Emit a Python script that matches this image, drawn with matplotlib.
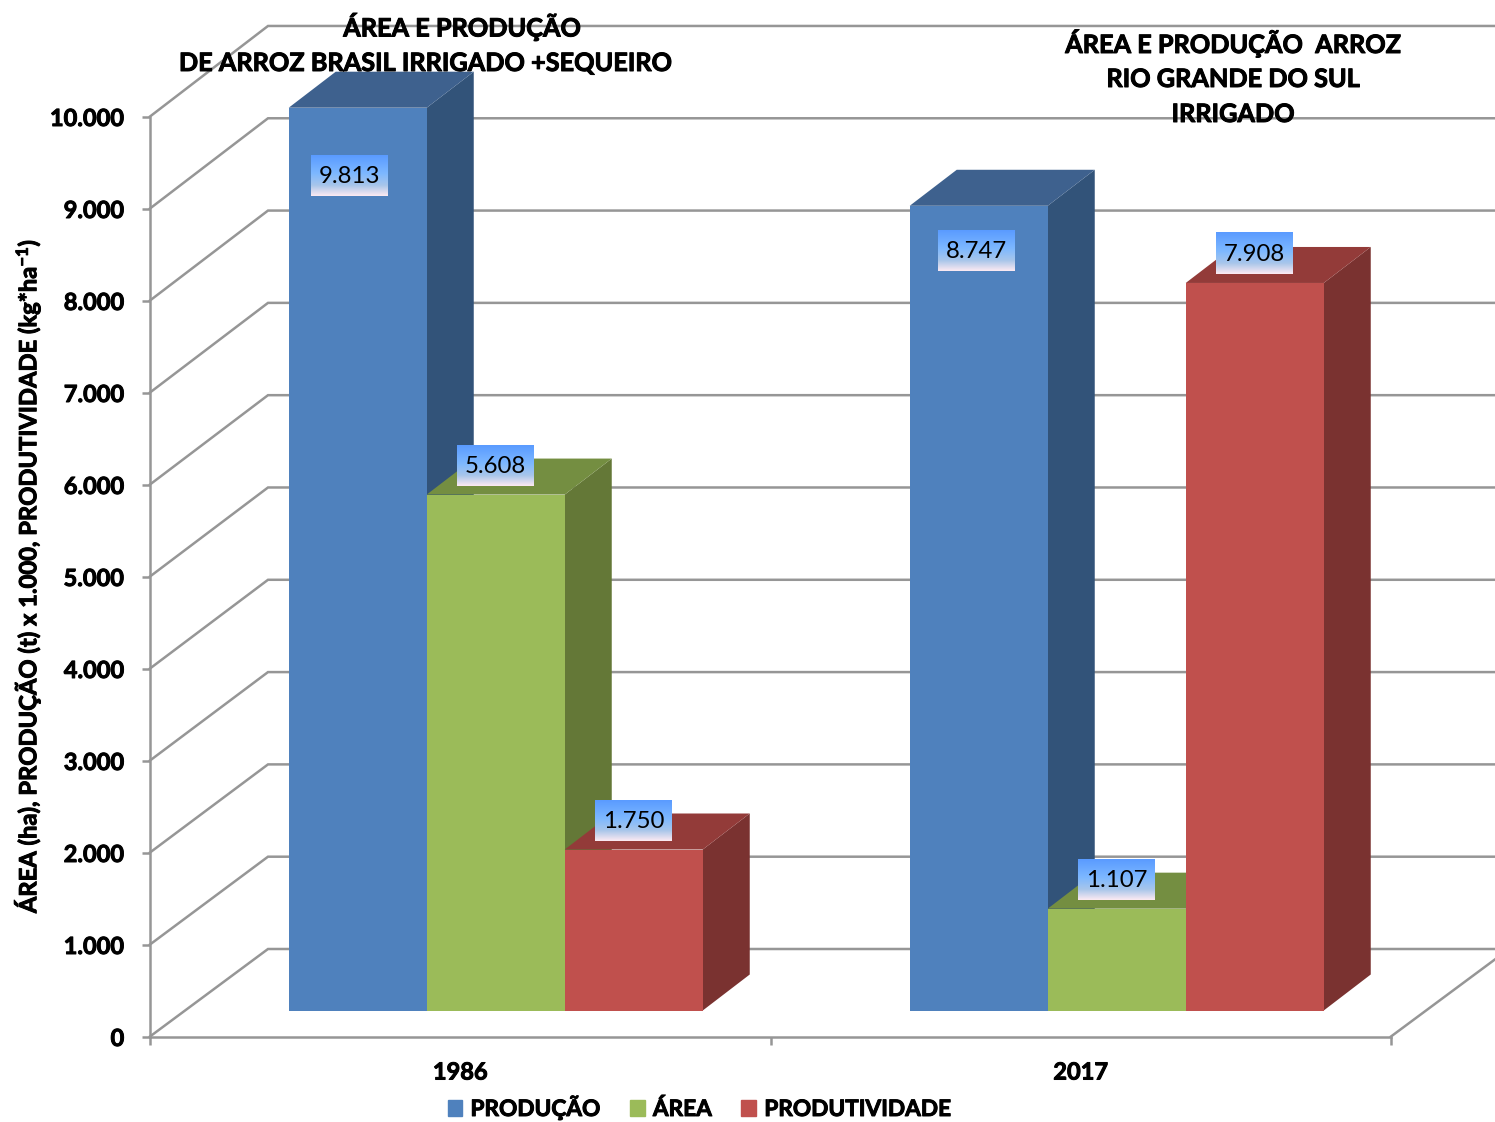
import numpy as np
import matplotlib
matplotlib.use("Agg")
import matplotlib.pyplot as plt
from matplotlib.patches import Patch
from matplotlib.colors import LinearSegmentedColormap
import matplotlib.patheffects as pe

# ---- data ----
years = ["1986", "2017"]
producao = [9813, 8747]
area = [5608, 1107]
produtividade = [1750, 7908]
series_names = ["PRODUÇÃO", "ÁREA", "PRODUTIVIDADE"]
y_ticks = [0, 1000, 2000, 3000, 4000, 5000, 6000, 7000, 8000, 9000, 10000]

# ---- style ----
plt.rcParams["font.family"] = ["Lato", "DejaVu Sans"]
plt.rcParams["mathtext.fontset"] = "custom"
plt.rcParams["mathtext.rm"] = "Lato:bold"
plt.rcParams["mathtext.bf"] = "Lato:bold"
plt.rcParams["mathtext.default"] = "regular"

W, H = 1495, 1122
L, R, T, B = 150, 1391, 116.5, 1036.5
PX_X = 2 / (R - L)          # data units per pixel
PX_Y = 10000 / (B - T)
GREY = "#969696"
LW = 1.8
front = ["#4F81BD", "#9BBB59", "#C0504D"]
top = ["#3E618E", "#748E41", "#933B39"]
side = ["#325379", "#647837", "#7A3230"]
HEAVY = [pe.withStroke(linewidth=0.7, foreground="black")]

fig = plt.figure(figsize=(W / 100, H / 100), dpi=100)
ax = fig.add_axes([L / W, 1 - B / H, (R - L) / W, (B - T) / H])
ax.patch.set_alpha(0)
ax.set_xlim(0, 2)
ax.set_ylim(0, 10000)

# walls and grid
wall_dx, wall_dy = 118 * PX_X, 87.5 * PX_Y
back_scale = 1.0033
for v in y_ticks:
    yb = v * back_scale + wall_dy
    ax.plot([0, wall_dx, 2 + wall_dx], [v, yb, yb],
            color=GREY, lw=LW, clip_on=False, zorder=1, solid_joinstyle="miter")
ax.plot([2, 2 + wall_dx], [0, wall_dy], color=GREY, lw=LW, clip_on=False, zorder=1)

# bars
width = 138 * PX_X
lift = 26 * PX_Y
centers = np.array([0.5, 1.5]) + np.array([35.5, 36.0]) * PX_X
depth_x, depth_y = 47 * PX_X, 36 * PX_Y
all_series = [producao, area, produtividade]
draw_order = [(0, 0), (0, 1), (0, 2), (1, 0), (1, 2), (1, 1)]
for g, s in draw_order:
    val = all_series[s][g]
    left = centers[g] + (s - 1.5) * width
    right = left + width
    y0, y1 = lift, lift + val
    z = 3 + g + (0.1 * s)
    ax.fill([right, right + depth_x, right + depth_x, right],
            [y0, y0 + depth_y, y1 + depth_y, y1], color=side[s], lw=0, zorder=z, clip_on=False)
    ax.fill([left, left + depth_x, right + depth_x, right],
            [y1, y1 + depth_y, y1 + depth_y, y1], color=top[s], lw=0, zorder=z, clip_on=False)
    ax.bar(left, val, width, bottom=lift, align="edge", color=front[s], lw=0,
           zorder=z + 0.01, clip_on=False)

# data labels with gradient boxes
cmap = LinearSegmentedColormap.from_list(
    "lbl", [(0, "#5A9BFF"), (0.45, "#7DB8FF"), (0.75, "#A9C6EA"), (1, "#FBE9F2")])
grad = np.linspace(0, 1, 64).reshape(-1, 1)
box_w, box_h = 77 * PX_X, 41 * PX_Y
nudge_x = {(0, 0): -8.5, (1, 0): -2.5}
nudge_y = {(0, 0): -68, (1, 0): -45}
for g in range(2):
    for s in range(3):
        val = all_series[s][g]
        cx = centers[g] + (s - 1) * width + nudge_x.get((g, s), 0) * PX_X
        cy = lift + val + nudge_y.get((g, s), 29) * PX_Y
        ax.imshow(grad, cmap=cmap, aspect="auto", zorder=10, clip_on=False,
                  extent=[cx - box_w / 2, cx + box_w / 2, cy - box_h / 2, cy + box_h / 2],
                  origin="upper")
        ax.text(cx, cy - 0.5 * PX_Y, f"{val:,}".replace(",", "."), ha="center", va="center",
                fontsize=17.3, color="black", zorder=11)
ax.set_xlim(0, 2)
ax.set_ylim(0, 10000)

# axes
for name in ("top", "right"):
    ax.spines[name].set_visible(False)
for name in ("left", "bottom"):
    ax.spines[name].set_color(GREY)
    ax.spines[name].set_linewidth(LW)
    ax.spines[name].set_zorder(2)
ax.set_yticks(y_ticks)
ax.set_yticklabels([f"{v:,}".replace(",", ".") for v in y_ticks],
                   fontsize=17, fontweight="bold", path_effects=HEAVY)
ax.tick_params(axis="y", length=6, width=LW, color=GREY, pad=12.5)
ax.set_xticks([0, 1, 2])
ax.set_xticklabels([])
ax.tick_params(axis="x", which="major", length=6, width=LW, color=GREY)
ax.set_xticks([0.5, 1.5], minor=True)
ax.set_xticklabels(years, minor=True, fontsize=17, fontweight="bold", path_effects=HEAVY)
ax.tick_params(axis="x", which="minor", length=0, pad=17.3)

fig.text(27 / W, 1 - 576 / H,
         "ÁREA (ha), PRODUÇÃO (t) x 1.000, PRODUTIVIDADE (kg*ha$^{-1}$)",
         rotation=90, ha="center", va="center", fontsize=17.1, fontweight="bold",
         path_effects=HEAVY)

# titles
def title(x, y, s):
    fig.text(x / W, 1 - y / H, s, ha="center", va="center", fontsize=18.2,
             fontweight="bold", color="black", zorder=20, path_effects=HEAVY)
title(462, 27, "ÁREA E PRODUÇÃO")
title(425, 63.5, "DE ARROZ BRASIL IRRIGADO +SEQUEIRO")
title(1233, 43.5, "ÁREA E PRODUÇÃO  ARROZ")
title(1233, 79.5, "RIO GRANDE DO SUL")
title(1233, 114.5, "IRRIGADO")

# legend
handles = [Patch(color=c, label=n) for c, n in zip(front, series_names)]
leg = fig.legend(handles=handles, ncol=3, frameon=False, loc="center",
                 bbox_to_anchor=(699.5 / W, 1 - 1107.5 / H),
                 prop={"size": 16.3, "weight": "bold"},
                 handlelength=0.65, handleheight=0.65, handletextpad=0.36,
                 columnspacing=1.3, borderpad=0, borderaxespad=0)
for t in leg.get_texts():
    t.set_path_effects(HEAVY)

fig.savefig("out.png", dpi=100)
